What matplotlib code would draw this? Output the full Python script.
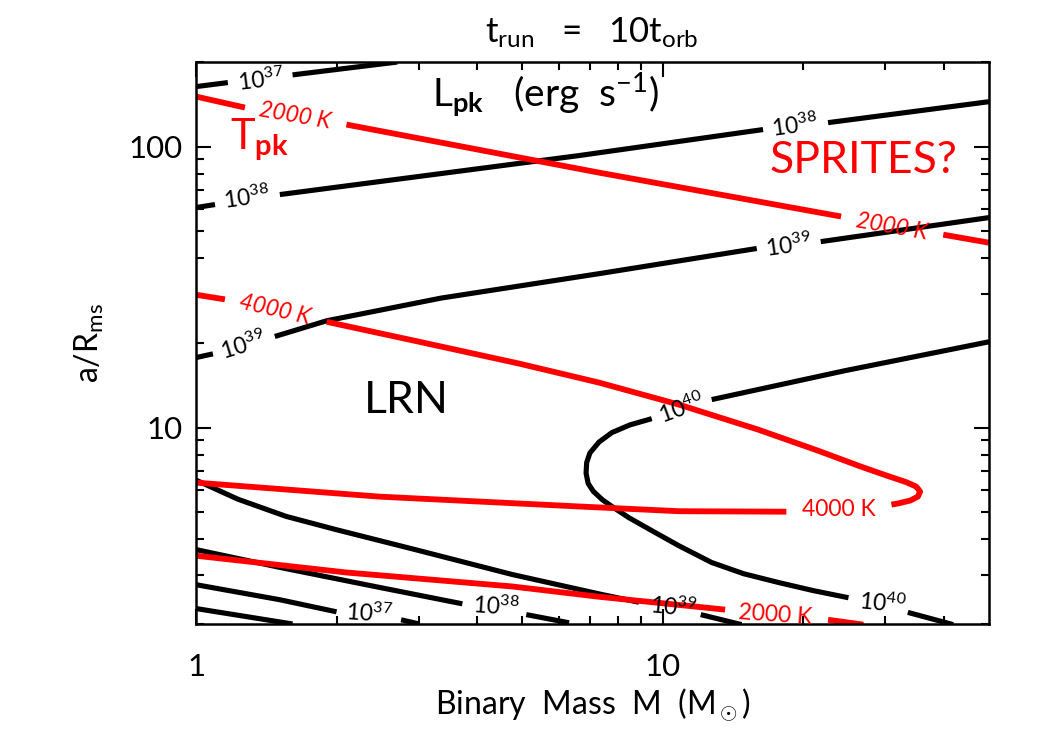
import numpy as np
import matplotlib
matplotlib.use('Agg')
import matplotlib.pyplot as plt
from matplotlib.ticker import FixedLocator, FixedFormatter, NullFormatter

plt.rcParams['font.family'] = ['Lato', 'DejaVu Sans']
plt.rcParams['mathtext.fontset'] = 'custom'
plt.rcParams['mathtext.rm'] = 'Lato'
plt.rcParams['mathtext.it'] = 'Lato:italic'
plt.rcParams['mathtext.bf'] = 'Lato:bold'

nan = np.nan

# L_pk contours (erg s^-1); nan = gap left for the contour label
m_l36 = [1.0, 1.61]
a_l36 = [2.27, 2.0]

m_l37_top = [1.0, 1.17, nan, 1.61, 2.70]
a_l37_top = [163.5, 169, nan, 180, 200]
m_l37_bot = [1.0, 1.512, 2.00, nan, 2.75, 3.01]
a_l37_bot = [2.76, 2.44, 2.21, nan, 2.07, 2.0]

m_l38_top = [1.0, 1.098, nan, 1.512, 6.61, 16.4, nan, 22.6, 50]
a_l38_top = [60.7, 62.2, nan, 67.5, 92.9, 115, nan, 121.7, 144.5]
m_l38_bot = [1.0, 1.512, 2.47, 3.72, nan, 5.10, 6.30]
a_l38_bot = [3.68, 3.18, 2.70, 2.36, nan, 2.16, 2.02]

m_l39_top = [1.0, 1.087, nan, 1.475, 1.905, 3.35, 7.30, 15.9, nan, 21.8, 50]
a_l39_top = [17.75, 18.3, nan, 21.1, 24.0, 28.9, 35.3, 43.4, nan, 45.9, 55.9]
m_l39_bot = [1.0, 1.23, 1.56, 2.0, 2.91, 4.76, 7.30, 8.89, nan, 12.06, 14.75]
a_l39_bot = [6.50, 5.56, 4.83, 4.33, 3.70, 3.00, 2.56, 2.39, nan, 2.16, 1.99]

m_l40 = [50, 24.6, 12.73, nan, 9.47, 8.50, 7.78, 7.30, 6.98, 6.87, 6.85, 6.92,
         7.10, 7.42, 7.78, 8.46, 9.47, 10.82, 12.73, 14.9, 17.7, 21.0, 25.0, nan,
         33.5, 41.9]
a_l40 = [20.2, 15.95, 12.58, nan, 10.76, 10.22, 9.60, 8.88, 8.12, 7.51, 6.88, 6.33,
         5.93, 5.54, 5.24, 4.78, 4.30, 3.80, 3.31, 3.02, 2.81, 2.63, 2.48, nan,
         2.20, 1.99]

# T_pk contours (K)
m_t2000_top = [1.0, 1.273, nan, 2.10, 7.30, 24.1, nan, 39.9, 50]
a_t2000_top = [150.7, 137.7, nan, 119.8, 80.8, 56.4, nan, 48.6, 45.5]
m_t2000_bot = [1.0, 2.10, 4.76, 7.30, 13.6, nan, 22.6, 26.9]
a_t2000_bot = [3.50, 3.05, 2.72, 2.50, 2.25, nan, 2.07, 1.99]

m_t4000 = [1.0, 1.153, nan, 1.905, 3.01, 4.92, 7.30, 10.82, 16.0, 21.5, 26.6, 30.4,
           33.2, 34.9, 35.6, 35.2, 33.9, 31.9, 30.9, nan, 18.4, 10.82, 6.61, 2.47, 1.0]
a_t4000 = [29.7, 28.6, nan, 23.8, 20.2, 16.9, 14.46, 12.08, 9.84, 8.28, 7.26, 6.72,
           6.40, 6.17, 5.92, 5.68, 5.50, 5.37, 5.32, nan, 5.02, 5.04, 5.24, 5.68, 6.37]

black_curves = [(m_l36, a_l36), (m_l37_top, a_l37_top), (m_l37_bot, a_l37_bot),
                (m_l38_top, a_l38_top), (m_l38_bot, a_l38_bot),
                (m_l39_top, a_l39_top), (m_l39_bot, a_l39_bot), (m_l40, a_l40)]
red_curves = [(m_t2000_top, a_t2000_top), (m_t2000_bot, a_t2000_bot),
              (m_t4000, a_t4000)]

# contour labels: text, M, a, rotation, colour, italic
labels = [
    (r'10$^{37}$', 1.38, 173, 7, 'k', False),
    (r'10$^{38}$', 1.285, 65.9, 8, 'k', False),
    (r'10$^{38}$', 19.2, 118.8, 8, 'k', False),
    (r'10$^{39}$', 1.26, 19.6, 17, 'k', False),
    (r'10$^{39}$', 18.6, 44.4, 8, 'k', False),
    (r'10$^{40}$', 10.98, 11.7, 20, 'k', False),
    (r'10$^{40}$', 29.5, 2.36, -6, 'k', False),
    (r'10$^{39}$', 10.5, 2.29, -6, 'k', False),
    (r'10$^{38}$', 4.40, 2.31, -4, 'k', False),
    (r'10$^{37}$', 2.35, 2.18, -4, 'k', False),
    ('2000 K', 1.63, 128.9, -10, 'red', True),
    ('2000 K', 30.9, 51.9, -10, 'red', True),
    ('4000 K', 1.475, 26.3, -13, 'red', True),
    ('4000 K', 23.8, 5.11, 0, 'red', False),
    ('2000 K', 17.4, 2.16, -4, 'red', False),
]

fig = plt.figure(figsize=(10.5, 7.5), dpi=100)
ax = fig.add_axes([0.1867, 0.168, 0.7552, 0.7493])
ax.set_xscale('log')
ax.set_yscale('log')
ax.set_xlim(1, 50)
ax.set_ylim(2, 200)

for m, a in black_curves:
    ax.plot(m, a, color='k', lw=3.7, solid_capstyle='butt', solid_joinstyle='round')
for m, a in red_curves:
    ax.plot(m, a, color='red', lw=4.2, solid_capstyle='butt', solid_joinstyle='round')

for txt, m, a, rot, c, it in labels:
    ax.text(m, a, txt, color=c, fontsize=16.5, rotation=rot, ha='center', va='center',
            rotation_mode='anchor', style='italic' if it else 'normal')

ax.text(5.6, 138.8, r'L$_{\bf pk}$   (erg  s$^{-1}$)', fontsize=28, ha='center', va='baseline')
ax.text(1.18, 97.6, r'T$_{\bf pk}$', fontsize=30, color='red', ha='left', va='baseline')
ax.text(26.9, 80.8, 'SPRITES?', fontsize=32, color='red', ha='center', va='baseline')
ax.text(2.82, 11.3, 'LRN', fontsize=32, ha='center', va='baseline')

ax.xaxis.set_major_locator(FixedLocator([1, 10]))
ax.xaxis.set_major_formatter(FixedFormatter(['1', '10']))
ax.xaxis.set_minor_locator(FixedLocator([2, 3, 4, 5, 6, 7, 8, 9, 20, 30, 40]))
ax.xaxis.set_minor_formatter(NullFormatter())
ax.yaxis.set_major_locator(FixedLocator([10, 100]))
ax.yaxis.set_major_formatter(FixedFormatter(['10', '100']))
ax.yaxis.set_minor_locator(FixedLocator([2, 3, 4, 5, 6, 7, 8, 9, 20, 30, 40, 50,
                                         60, 70, 80, 90, 200]))
ax.yaxis.set_minor_formatter(NullFormatter())
ax.tick_params(which='both', direction='in', top=True, right=True, width=1.5)
ax.tick_params(which='major', length=11)
ax.tick_params(which='minor', length=5.5)
ax.tick_params(axis='x', which='major', labelsize=22.5, pad=21)
ax.tick_params(axis='y', which='major', labelsize=22.5, pad=10)
for s in ax.spines.values():
    s.set_linewidth(1.8)

ax.set_xlabel(r'Binary  Mass  M  (M$_\odot$)', fontsize=23, labelpad=4)
ax.set_ylabel(r'a/R$_{\rm ms}$', fontsize=23, labelpad=16)
fig.text(592 / 1050, 1 - 43 / 750, r't$_{\rm run}$   =   10t$_{\rm orb}$', fontsize=25,
         ha='center', va='baseline')

fig.savefig('out.png', dpi=100)
